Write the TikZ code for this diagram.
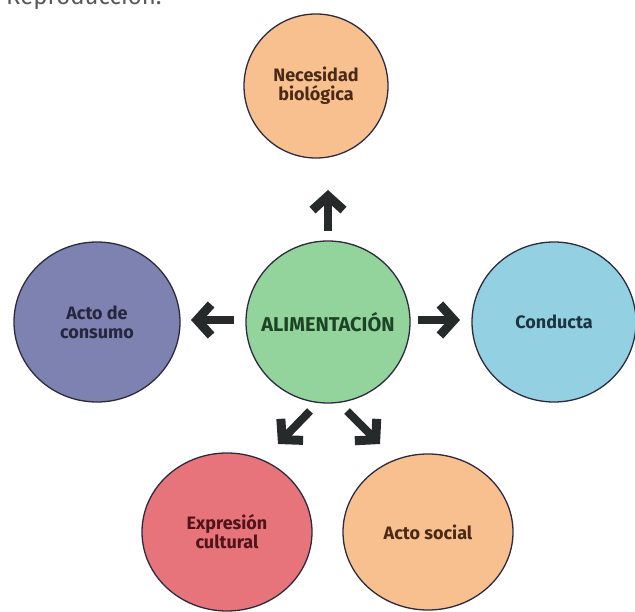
\documentclass[tikz,border=0pt]{standalone}
\usepackage{fontspec}
\setmainfont{Fira Sans}
\usetikzlibrary{arrows.meta}
\definecolor{peach}{HTML}{F8C08E}
\definecolor{mint}{HTML}{93D49C}
\definecolor{slate}{HTML}{7E82B0}
\definecolor{sky}{HTML}{93D0E2}
\definecolor{coral}{HTML}{E8747B}
\definecolor{outl}{HTML}{2B2A3E}
\definecolor{arrowc}{HTML}{262A2B}
\definecolor{tpeach}{HTML}{4A2A16}
\definecolor{tmint}{HTML}{1D4424}
\definecolor{tslate}{HTML}{25273F}
\definecolor{tsky}{HTML}{1B3440}
\definecolor{tcoral}{HTML}{4E1418}
\tikzset{
  rim/.style={draw=outl, line width=1.3pt},
  lbl/.style={align=center, font=\fontsize{18}{19}\selectfont\bfseries},
  blkarrow/.style={draw=arrowc, line width=8pt, -{Straight Barb[length=14pt, width=31pt, line width=9pt, sharp]}}
}
\begin{document}
\begin{tikzpicture}[x=1pt,y=-1pt]
\useasboundingbox (0,0) rectangle (635,612);
% circles
\filldraw[rim, fill=peach] (316,86) ellipse [x radius=72, y radius=72];
\filldraw[rim, fill=mint] (328,322) ellipse [x radius=82, y radius=81];
\filldraw[rim, fill=slate] (97,322) ellipse [x radius=83, y radius=80];
\filldraw[rim, fill=sky] (554,322) ellipse [x radius=82, y radius=80];
\filldraw[rim, fill=coral] (227,532) ellipse [x radius=85, y radius=79];
\filldraw[rim, fill=peach] (428,532) ellipse [x radius=85, y radius=78];
% labels
\node[lbl, text=tpeach] (top) at (316,86) {Necesidad\\biológica};
\node[lbl, font=\fontsize{20}{21}\selectfont\bfseries, text=tmint] (center) at (328,322) {ALIMENTACIÓN};
\node[lbl, text=tslate] (left) at (97,322) {Acto de\\consumo};
\node[lbl, text=tsky] (right) at (554,322) {Conducta};
\node[lbl, text=tcoral] (bl) at (227,532) {Expresión\\cultural};
\node[lbl, text=tpeach] (br) at (428,532) {Acto social};
% clipped heading
\node[anchor=base west, inner sep=0pt, font=\fontsize{24}{26}\selectfont, text=black!65] (head) at (6,5) {Reproducción.};
% arrows
\coordinate (u1) at (328,231); \coordinate (u2) at (328,190);
\coordinate (l1) at (234,320); \coordinate (l2) at (191,320);
\coordinate (r1) at (418,320); \coordinate (r2) at (460,320);
\coordinate (dl1) at (310,411); \coordinate (dl2) at (278,444);
\coordinate (dr1) at (347,411); \coordinate (dr2) at (380,444);
\draw[blkarrow] (u1) -- (u2);
\draw[blkarrow] (l1) -- (l2);
\draw[blkarrow] (r1) -- (r2);
\draw[blkarrow] (dl1) -- (dl2);
\draw[blkarrow] (dr1) -- (dr2);
\end{tikzpicture}
\end{document}
